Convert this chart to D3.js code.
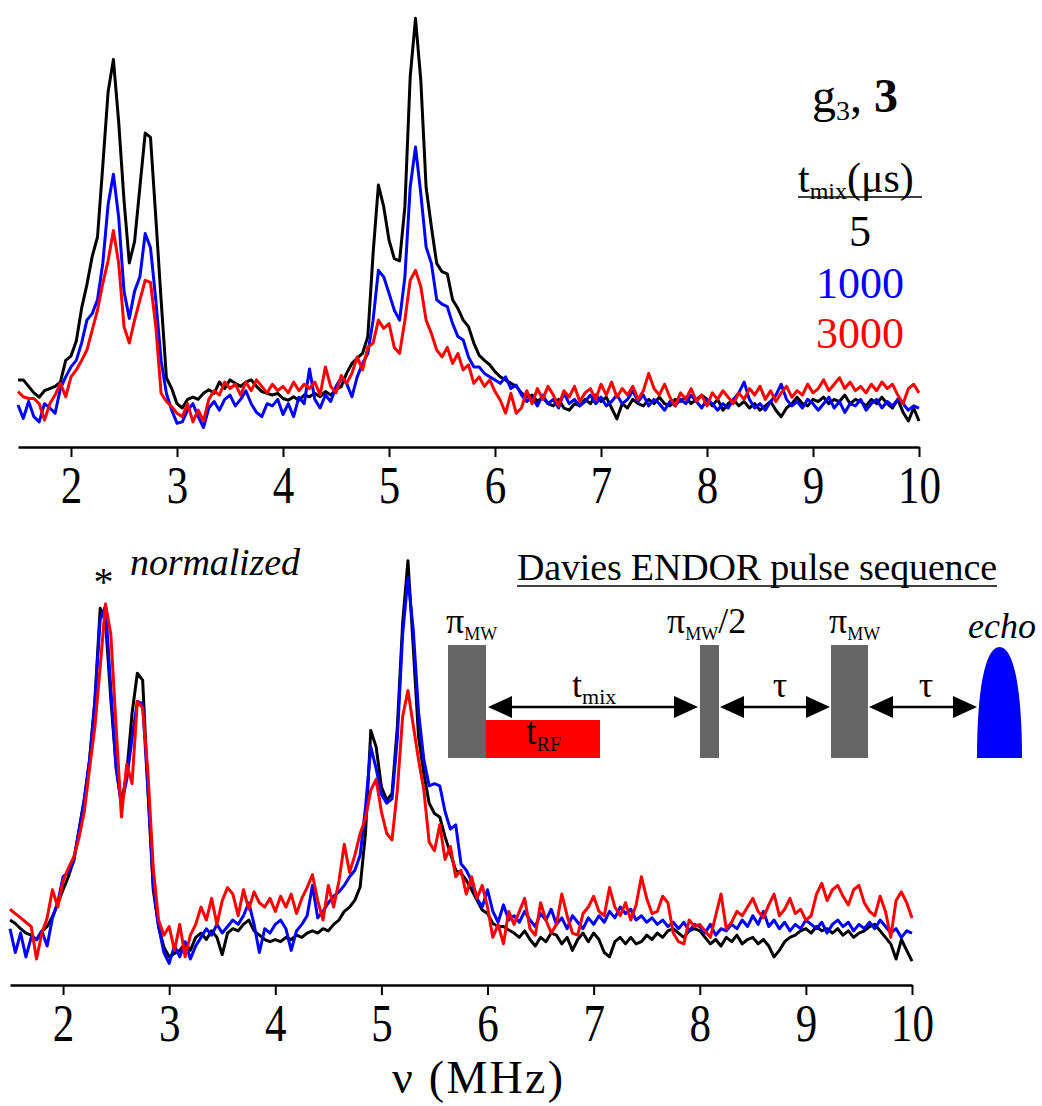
<!DOCTYPE html>
<html>
<head>
<meta charset="utf-8">
<script src="https://cdn.jsdelivr.net/npm/d3@7"></script>
<style>
  body { margin: 0; background: #fff; }
  svg { display: block; background: #fff; }
  svg text { font-family: "Liberation Serif", "DejaVu Serif", "Times New Roman", Times, serif !important; }
</style>
</head>
<body>
<svg width="1042" height="1106"></svg>
<script>
// frequency grid (MHz), 0.05 MHz steps from 1.5 to 10
let freq = d3.range(171).map(i => +(1.5 + i * 0.05).toFixed(2));
let ticks = [2, 3, 4, 5, 6, 7, 8, 9, 10];
let mixTimes = ["5", "1000", "3000"];
let colors = ["#000000", "#0000ff", "#ff0000"];

// top panel, raw ENDOR intensities (arb. units)
let topBlack = [
  15.5, 15.5, 14, 12.5, 11.5, 13, 13.5, 14, 15, 20,
  21, 24.5, 32, 37.5, 44, 48.5, 65, 82, 89.5, 75,
  57, 42.5, 47.5, 60, 72.5, 71.5, 53, 34, 16, 13.5,
  10, 9, 11, 11.5, 11,
  12.4, 13.2, 12.4, 15, 13.5, 15.5, 14.7, 14, 15, 15.5,
  14, 12.8, 12.4, 12, 12.4, 11.2, 10.8, 11.6, 10.8, 12,
  11.6, 12.4, 11.6, 12.8, 12, 13.2, 14,
  17, 19.3, 20.5, 21.6, 25.5, 44.7, 60.5, 55.5, 47.8, 43.5,
  43, 55.5, 85.5, 99, 84.7, 60, 50.8, 42.4, 40.5, 40,
  34, 32, 29.3, 27.8, 24, 21.2, 20, 19, 17.4, 16.2,
  15.5, 14.7, 14,
  12.5, 11.5, 12, 10.5, 11.5, 10, 9.5, 11, 9, 8.5,
  10, 9.5, 11, 10, 12, 10.5, 11.5, 9, 6.5, 10,
  9, 11, 10, 9.5, 11, 10, 11.5, 10, 9.5, 11,
  10.5, 11.5, 10, 11, 12, 11, 9.5, 11, 8.5, 10,
  11, 9.5, 10.5, 9, 10, 8.5, 9.5, 10.5, 8.5, 7,
  9, 10, 11.5, 10, 9.5, 11, 10.5, 11.5, 10, 11,
  10.5, 12, 10, 11, 10.5, 9.5, 11, 10, 11.5, 10,
  9, 11, 8, 6, 9, 6
];
let topBlue = [
  9.7, 6.6, 10.5, 7, 5.8, 10, 9, 7.8, 13.5, 16.2,
  18.5, 20, 24, 29.3, 30.8, 34, 42.4, 56, 63, 53,
  36, 29.7, 36, 39.3, 49.3, 46, 34, 20, 12.4, 8.5,
  5.5, 5.8, 8.5, 10, 7,
  4.5, 9, 10.5, 8.5, 11, 12, 9.5, 11, 13, 10,
  8, 7, 10, 9.5, 11, 7.5, 10, 7, 11.5, 10,
  18, 11, 9, 12, 10.5, 14, 16,
  14.7, 11.6, 16.2, 19.3, 21.6, 29.3, 40.8, 39.3, 35.5, 31.6,
  29.3, 39.3, 60, 69.3, 58.5, 46.2, 42.4, 34, 33, 32.4,
  28.5, 25.5, 24.7, 20.8, 18.5, 18.5, 17, 16.2, 15.5, 14.7,
  16.2, 13.5, 14.3,
  12, 10.5, 11.5, 9.5, 12, 10, 11, 9, 12.5, 10,
  11, 9.5, 10.5, 12, 10, 11.5, 9.5, 10.5, 12, 10,
  11, 13, 10.5, 12, 9.5, 11, 10, 8.5, 10.5, 9.5,
  11, 10, 12, 10.5, 9, 11, 10, 8.5, 10, 9,
  11, 12.5, 15, 11, 9, 10, 8.5, 10.5, 12, 14.5,
  11, 9.5, 10.5, 9, 11, 10, 8.5, 10, 11.5, 9,
  10.5, 8, 10, 9.5, 11, 8.5, 10, 11, 9, 10.5,
  9.5, 11, 10, 8.5, 9.5, 9
];
let topRed = [
  12.8, 11.6, 11.2, 11.2, 10, 6.2, 10, 12, 14.7, 11.6,
  16.2, 17.8, 20, 22.4, 27, 31.6, 37.8, 43, 50, 42.4,
  27.8, 24, 29.3, 34, 38.5, 38, 27.8, 12.4, 10.5, 9.3,
  7.8, 7, 10, 5.8, 8.5,
  6, 11, 13, 12, 15, 13.5, 14.5, 12, 15, 13,
  15.5, 14, 12.5, 14.5, 13, 14, 12.5, 15, 13, 14.5,
  13.5, 15, 12, 18.5, 14, 12.5, 16.5,
  14.7, 17, 20.8, 17.8, 23, 24, 29.3, 27.4, 28.5, 23,
  21.6, 29.3, 38.5, 40.8, 37, 29.3, 26.2, 22.4, 20.8, 23,
  19.3, 21.6, 17.8, 19, 14.7, 16.2, 14, 15.5, 12.8, 10.8,
  7.8, 12.4, 7.8,
  9, 13, 10, 13.5, 11, 14, 12, 9.5, 13, 11.5,
  14, 10.5, 12.5, 13.5, 11, 14.5, 12, 15, 11.5, 13.5,
  12, 14, 11, 13, 17, 13.5, 12, 14.5, 11.5, 9.5,
  12.5, 11, 13.5, 10.5, 12, 9.5, 12.5, 11, 13, 11.5,
  10, 12.5, 11, 13.5, 12, 14, 11, 13, 10.5, 12.5,
  14, 11.5, 13, 12, 14.5, 12.5, 13.5, 15.5, 13, 14.5,
  16, 13.5, 15, 13, 14, 12.5, 14.5, 13, 15, 13.5,
  14.5, 12, 10, 13.5, 14.5, 12.5
];

// bottom panel, normalized at the 2.4 MHz peak (*)
let botBlack = [
  15, 14.2, 13, 12, 11.5, 10.4, 12.3, 13.5, 15.8, 18.8,
  22, 25, 28.8, 35.8, 42.7, 52, 65.8, 87, 84, 66,
  50.4, 42, 48.8, 62.7, 72, 70.4, 45, 22, 13.5, 8.8,
  6.5, 7.3, 8, 9.6, 8,
  11, 12, 10.5, 12.5, 11, 7, 12, 13, 12.5, 14,
  15, 12.5, 11.5, 10.5, 10, 10.5, 10, 11, 10.5, 11.5,
  11, 12, 12.5, 12, 13, 12.5, 14,
  15, 17, 18, 19.6, 22.7, 35, 58.8, 55, 45.8, 42.7,
  44.2, 59.6, 83.5, 98, 78, 57.3, 48.8, 42, 39.6, 38.8,
  34.2, 30.4, 26.5, 25.8, 24.2, 22, 19.6, 17.3, 16.5, 14.2,
  13.5, 13.5, 12.7,
  12, 11, 12.5, 10.5, 9, 11, 10, 12, 11.5, 9.5,
  11, 8, 10.5, 12, 10, 12, 10.5, 7.5, 6.5, 10,
  11, 9.5, 11, 9.5, 10, 11.5, 10.5, 12, 11, 12.5,
  13, 12, 11, 12.5, 13, 12.5, 11, 9.5, 10.5, 9,
  11, 10, 11.5, 9.5, 10.5, 11, 9.5, 10.5, 9, 6.5,
  8, 10, 11, 11.5, 12.5, 13, 12, 13.5, 12.5, 13,
  12, 13, 11.5, 12.5, 11, 12, 12.5, 13.5, 14, 12.5,
  11, 9.5, 6, 10.5, 8, 5.5
];
let botBlue = [
  13, 7.5, 12, 6.5, 11, 10.5, 12.5, 9, 15.5, 19,
  25, 26, 28.5, 35.5, 43, 52, 65.5, 84.5, 87.5, 68.5,
  50, 41.5, 47.5, 57, 65.5, 65, 45, 23, 13.5, 7.5,
  5, 9, 6.5, 10, 6,
  9, 11, 13, 11.5, 14, 12, 13.5, 15, 14, 16,
  19, 14, 7.5, 13, 12, 14, 15, 13, 8, 12.5,
  14, 16, 23, 15.5, 17, 19, 20.5,
  21.5, 23, 25, 26.5, 30, 41, 55, 50, 44, 42,
  43, 57, 81, 94, 82, 63, 52, 46, 46.5, 46,
  40, 36, 37, 28, 26.5, 24, 20, 18, 22, 17,
  14.5, 18.5, 15,
  16, 14.5, 17, 15, 13.5, 16.5, 15, 17.5, 14, 15.5,
  13, 16, 14.5, 13, 15.5, 14, 16, 14.5, 17, 15.5,
  18, 16.5, 17.5, 15, 16, 14.5, 15.5, 14, 15, 13.5,
  14.5, 13, 14.5, 12.5, 14, 13.5, 12, 14, 11.5, 13,
  12.5, 14, 13, 15, 13.5, 16, 14, 17, 13.5, 15,
  13, 14.5, 12.5, 14, 13, 15, 14, 13, 14.5, 12,
  14, 15, 13.5, 14.5, 12.5, 14, 13, 14.5, 13, 15,
  13.5, 12, 13, 11, 12.5, 12
];
let botRed = [
  17.5, 16.5, 15.5, 14.5, 13.5, 6, 12, 15.5, 22, 18,
  24, 27, 29.5, 34, 40, 50, 59.6, 73.5, 88, 81,
  59.6, 38.8, 51, 46.5, 65.5, 64, 49, 27, 15, 11.5,
  13.5, 8, 14, 6.5, 11.5,
  14, 18, 15, 20, 14, 19.5, 22.5, 21, 16, 22,
  17.5, 21.5, 19, 18, 20, 17, 20.5, 18, 21, 16.5,
  20, 22.5, 25.5, 19.5, 15, 23, 18,
  24, 32.5, 26, 30, 35, 38.5, 45, 47.5, 40, 35,
  33.5, 45, 62, 68, 60, 52, 45, 33, 31, 37,
  29, 32, 25, 26.5, 21, 25, 20, 23, 18, 11,
  14, 9.5, 17,
  14, 17, 20, 13, 11.5, 19, 15, 12, 14, 21,
  16, 12, 11.5, 16.5, 18, 20.5, 17, 16, 22.5, 18,
  16, 19, 15, 18.5, 25, 20, 16.5, 17, 20.5, 19,
  12, 10, 9.5, 15, 13.5, 14, 12.5, 11, 16, 21,
  13, 14.5, 17, 16, 18, 20, 17, 15.5, 18.5, 21,
  16, 17.5, 20, 16.5, 17.5, 15, 16, 21, 23.5, 19.5,
  22, 23, 20.5, 18.5, 22, 23, 19, 17, 16, 20.5,
  17, 11, 19.5, 21.5, 19, 15.5
];

let svg = d3.select("svg");

let xTop = d3.scaleLinear().domain([1.5, 10]).range([18, 919]);
let yTop = d3.scaleLinear().domain([0, 100]).range([447, 14]);
let xBot = d3.scaleLinear().domain([1.5, 10]).range([10, 912]);
let yBot = d3.scaleLinear().domain([0, 100]).range([985, 552]);

function drawPanel(x, y, series, axisY) {
  series.forEach((vals, k) => {
    if (vals.length !== freq.length) console.log("length mismatch", k, vals.length);
    svg.append("path")
      .datum(freq.map((f, i) => [f, vals[i]]))
      .attr("fill", "none")
      .attr("stroke", colors[k])
      .attr("stroke-width", 3)
      .attr("stroke-linejoin", "round")
      .attr("d", d3.line().x(d => x(d[0])).y(d => y(d[1])));
  });

  let ax = svg.append("g")
    .attr("transform", "translate(0," + axisY + ")")
    .call(d3.axisBottom(x).tickValues(ticks).tickSize(10).tickSizeOuter(0).tickFormat(d3.format("d")));
  ax.select(".domain").attr("stroke", "#000").attr("stroke-width", 2.5);
  ax.selectAll(".tick line").attr("stroke", "#000").attr("stroke-width", 2);
  ax.selectAll(".tick text")
    .attr("fill", "#000")
    .attr("font-size", 43)
    .attr("y", 0).attr("dy", null)
    .attr("transform", "translate(0,56) scale(1,1.22)");
}

drawPanel(xTop, yTop, [topBlack, topBlue, topRed], 447);
drawPanel(xBot, yBot, [botBlack, botBlue, botRed], 985);

// axis title
svg.append("text")
  .attr("x", 392).attr("y", 1093)
  .attr("font-size", 46)
  .attr("textLength", 171)
  .text("ν (MHz)");

// legend, top right
let g3 = svg.append("text").attr("x", 812).attr("y", 112).attr("font-size", 48);
g3.append("tspan").text("g");
g3.append("tspan").attr("font-size", 28).attr("dy", 8).text("3");
g3.append("tspan").attr("dy", -8).text(", ");
g3.append("tspan").attr("font-weight", "bold").text("3");

let tm = svg.append("text").attr("x", 798).attr("y", 192).attr("font-size", 42);
tm.append("tspan").text("t");
tm.append("tspan").attr("font-size", 24).attr("dy", 7).text("mix");
tm.append("tspan").attr("dy", -7).text("(μs)");
svg.append("line").attr("x1", 798).attr("x2", 922).attr("y1", 197).attr("y2", 197)
  .attr("stroke", "#000").attr("stroke-width", 1.5);

mixTimes.forEach((t, k) => {
  svg.append("text")
    .attr("x", 860).attr("y", [246, 298, 348][k])
    .attr("text-anchor", "middle")
    .attr("font-size", 44)
    .attr("fill", colors[k])
    .text(t);
});

// bottom panel annotations
svg.append("text").attr("x", xBot(2.38)).attr("y", 595).attr("text-anchor", "middle")
  .attr("font-size", 40).text("*");
svg.append("text").attr("x", 130).attr("y", 575).attr("font-size", 38)
  .attr("font-style", "italic").attr("textLength", 170).text("normalized");

// pulse sequence inset
svg.append("text").attr("x", 517).attr("y", 580).attr("font-size", 38)
  .attr("textLength", 480).text("Davies ENDOR pulse sequence");
svg.append("line").attr("x1", 517).attr("x2", 997).attr("y1", 586).attr("y2", 586)
  .attr("stroke", "#000").attr("stroke-width", 1.5);

let pulseTop = 645, pulseBot = 758;
let pulses = [[448, 486], [700, 719], [831, 868]];
pulses.forEach(p => {
  svg.append("rect").attr("x", p[0]).attr("y", pulseTop)
    .attr("width", p[1] - p[0]).attr("height", pulseBot - pulseTop)
    .attr("fill", "#666666");
});
svg.append("rect").attr("x", 486).attr("y", 720).attr("width", 114).attr("height", pulseBot - 720)
  .attr("fill", "#ff0000");

// echo
svg.append("path")
  .attr("d", "M977," + pulseBot + " C977,690 985,647 999.5,647 C1014,647 1022,690 1022," + pulseBot + " Z")
  .attr("fill", "#0000ff");

function arrow(x1, x2, y) {
  let hl = 24, hh = 11;
  svg.append("line").attr("x1", x1 + hl - 2).attr("x2", x2 - hl + 2).attr("y1", y).attr("y2", y)
    .attr("stroke", "#000").attr("stroke-width", 2.5);
  svg.append("path").attr("d", `M${x1},${y} L${x1 + hl},${y - hh} L${x1 + hl},${y + hh} Z`).attr("fill", "#000");
  svg.append("path").attr("d", `M${x2},${y} L${x2 - hl},${y - hh} L${x2 - hl},${y + hh} Z`).attr("fill", "#000");
}
arrow(488, 698, 707);
arrow(720, 830, 707);
arrow(869, 977, 707);

function subLabel(x, y, main, sub, tail, size, subSize) {
  let t = svg.append("text").attr("x", x).attr("y", y).attr("font-size", size);
  t.append("tspan").text(main);
  t.append("tspan").attr("font-size", subSize).attr("dy", 7).text(sub);
  if (tail) t.append("tspan").attr("dy", -7).text(tail);
  return t;
}
subLabel(446, 633, "π", "MW", null, 36, 18);
subLabel(667, 633, "π", "MW", "/2", 36, 18);
subLabel(829, 633, "π", "MW", null, 36, 18);
subLabel(572, 697, "t", "mix", null, 36, 22);
subLabel(526, 744, "t", "RF", null, 38, 20);
svg.append("text").attr("x", 780).attr("y", 697).attr("text-anchor", "middle").attr("font-size", 36).text("τ");
svg.append("text").attr("x", 926).attr("y", 697).attr("text-anchor", "middle").attr("font-size", 36).text("τ");
svg.append("text").attr("x", 968).attr("y", 638).attr("font-size", 36).attr("font-style", "italic")
  .text("echo");
</script>
</body>
</html>
